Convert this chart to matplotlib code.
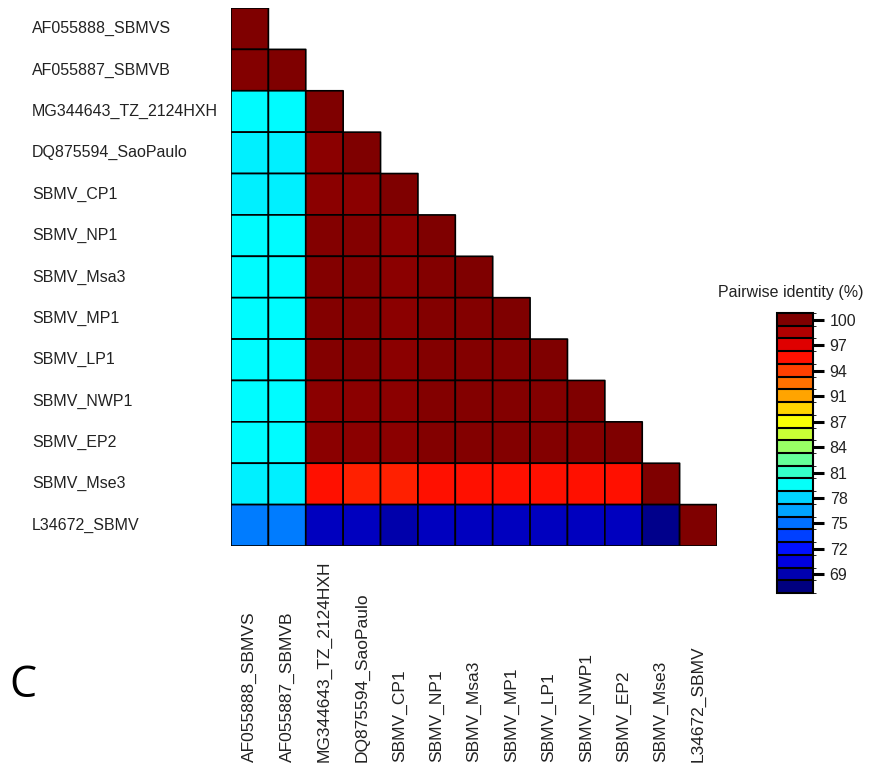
import numpy as np
import matplotlib
matplotlib.use("Agg")
import matplotlib.pyplot as plt
import matplotlib.transforms as mtransforms
from matplotlib.colors import LinearSegmentedColormap, ListedColormap, BoundaryNorm

plt.rcParams['font.family'] = ['Liberation Sans', 'DejaVu Sans']

# ---------------------------
# Data (lower triangle of pairwise identity, %)
# ---------------------------
names = ["AF055888_SBMVS", "AF055887_SBMVB", "MG344643_TZ_2124HXH",
         "DQ875594_SaoPaulo", "SBMV_CP1", "SBMV_NP1", "SBMV_Msa3",
         "SBMV_MP1", "SBMV_LP1", "SBMV_NWP1", "SBMV_EP2", "SBMV_Mse3",
         "L34672_SBMV"]

identity_rows = [
    [100],
    [99.9, 100],
    [79.7, 79.7, 100],
    [79.2, 79.2, 99.6, 100],
    [79.2, 79.2, 99.6, 99.6, 100],
    [79.7, 79.7, 99.9, 99.9, 99.6, 100],
    [79.7, 79.7, 99.9, 99.9, 99.6, 99.9, 100],
    [79.7, 79.7, 99.9, 99.9, 99.6, 99.9, 99.9, 100],
    [79.7, 79.7, 99.9, 99.9, 99.6, 99.9, 99.9, 99.9, 100],
    [79.7, 79.7, 99.6, 99.6, 99.6, 99.9, 99.9, 99.9, 99.9, 100],
    [79.7, 79.7, 99.6, 99.6, 99.6, 99.9, 99.9, 99.9, 99.9, 99.9, 100],
    [79.2, 79.2, 95.4, 94.9, 94.9, 95.4, 95.4, 95.4, 95.4, 95.4, 95.4, 100],
    [75.6, 75.6, 69.6, 69.6, 68.9, 69.6, 69.6, 69.6, 69.6, 69.6, 69.6, 68.0, 100],
]

legend_ticks = np.linspace(100, 69, 11)
legend_labels = ["100", "97", "94", "91", "87", "84", "81", "78", "75", "72", "69"]

# R style jet.colors palette
jet_nodes = ["#00007F", "blue", "#007FFF", "cyan", "#7FFF7F", "yellow",
             "#FF7F00", "red", "#7F0000"]
vmin, vmax = 67.5, 100.05
n_bins = 22

# ---------------------------
# Build matrix
# ---------------------------
n = len(names)
mat = np.full((n, n), np.nan)
for i, row in enumerate(identity_rows):
    mat[i, :len(row)] = row
mat = np.ma.masked_invalid(mat)

cmap = LinearSegmentedColormap.from_list("jet_r", jet_nodes)

fig = plt.figure(figsize=(8.71, 7.69), dpi=100)
ax = fig.add_axes([231 / 871, 1 - 546 / 769, 486 / 871, 538 / 769])
ax.pcolor(mat, cmap=cmap, vmin=vmin, vmax=vmax, edgecolors='black', linewidth=1.2)
ax.set_xlim(0, n)
ax.set_ylim(n, 0)
ax.axis('off')

# row labels, left aligned at the figure edge
trans_rows = mtransforms.blended_transform_factory(fig.transFigure, ax.transData)
for i, name in enumerate(names):
    ax.text(32 / 871, i + 0.5, name, transform=trans_rows, ha='left', va='center',
            fontsize=11.5, color='#222222')

# column labels, rotated, bottom aligned
trans_cols = mtransforms.blended_transform_factory(ax.transData, fig.transFigure)
for j, name in enumerate(names):
    ax.text(j + 0.5, 7 / 769, name, transform=trans_cols, rotation=90,
            ha='center', va='bottom', fontsize=12.5, color='#222222')

# panel letter
fig.text(9 / 871, 1 - 697 / 769, "C", fontsize=31, family=['Open Sans', 'DejaVu Sans'],
         ha='left', va='baseline')

# ---------------------------
# Discrete legend
# ---------------------------
step = (vmax - vmin) / (n_bins - 1)
bounds = np.linspace(vmin - step / 2, vmax + step / 2, n_bins + 1)
bin_colors = [cmap(k / (n_bins - 1)) for k in range(n_bins)]
cax = fig.add_axes([777 / 871, 1 - 593 / 769, 36 / 871, 280 / 769])
cb = fig.colorbar(plt.cm.ScalarMappable(norm=BoundaryNorm(bounds, n_bins),
                                        cmap=ListedColormap(bin_colors)),
                  cax=cax, boundaries=bounds, drawedges=True)
cb.dividers.set_color('black')
cb.dividers.set_linewidth(1.5)
cb.outline.set_linewidth(1.5)
cb.set_ticks(legend_ticks)
cb.set_ticklabels(legend_labels)
cax.tick_params(length=8, width=2.2, pad=4, labelsize=11.5, color='black',
                labelcolor='#222222')
fig.text(791 / 871, 1 - 292 / 769, "Pairwise identity (%)", ha='center', va='center',
         fontsize=11.5, color='#222222')

fig.savefig("out.png", dpi=100)
